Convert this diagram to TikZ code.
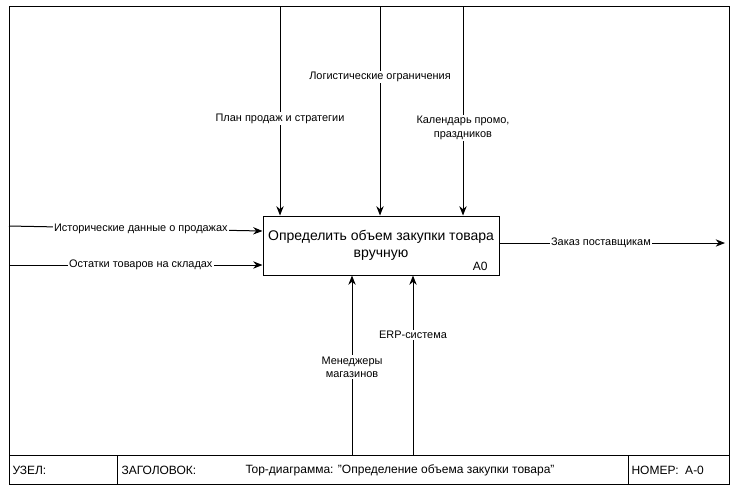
\documentclass[tikz,border=0pt]{standalone}
\usepackage{fontspec}
\setmainfont{Liberation Sans}
\usetikzlibrary{arrows.meta}
\begin{document}
\begin{tikzpicture}[x=0.75pt,y=-0.75pt,
  line width=0.75pt,
  flow/.style={draw, -{Stealth[length=7pt,width=5.5pt]}},
  lbl/.style={fill=white, inner sep=1pt, font=\fontsize{8.2}{10}\selectfont, align=center},
  foot/.style={font=\fontsize{9}{11}\selectfont, inner sep=0pt},
  actbox/.style={draw, minimum width=177pt, minimum height=44.25pt, inner sep=0pt}]
\useasboundingbox (0,0) rectangle (734,494);

% diagram frame and title row
\draw (9,6) rectangle (729,484);
\draw (9,455) -- (729,455);
\draw (117,455) -- (117,484);
\draw (628,455) -- (628,484);
\node[foot, anchor=west] (node) at (12,470) {УЗЕЛ:};
\node[foot, anchor=west] (title) at (121,470) {ЗАГОЛОВОК:};
\node[foot] (titletext) at (400,470) {Top-диаграмма: "Определение объема закупки товара"};
\node[foot, anchor=west] (number) at (631,470) {НОМЕР:\ \ A-0};

% activity box
\node[actbox] (box) at (381,245.5) {};
\node[font=\fontsize{10.5}{13}\selectfont, align=center] (boxtext) at (381,245)
  {Определить объем закупки товара\\вручную};
\node[font=\fontsize{9}{11}\selectfont, anchor=south east, inner sep=0pt] (boxid) at (488,271) {A0};

% controls from the top
\coordinate (c1) at (280,6);
\coordinate (c2) at (380,6);
\coordinate (c3) at (463,6);
\draw[flow] (c1) -- node[lbl, pos=0.538] {План продаж и стратегии} (c1 |- box.north);
\draw[flow] (c2) -- node[lbl, pos=0.338] {Логистические ограничения} (c2 |- box.north);
\draw[flow] (c3) -- node[lbl, pos=0.581] {Календарь промо,\\праздников} (c3 |- box.north);

% inputs from the left
\coordinate (i1) at (9,226);
\coordinate (i2) at (9,265);
\draw[flow] (i1) -- node[lbl, pos=0.52] {Исторические данные о продажах} (box.west |- 0,231);
\draw[flow] (i2) -- node[lbl, pos=0.52] {Остатки товаров на складах} (box.west |- i2);

% output to the right
\coordinate (o1) at (725,243);
\draw[flow] (box.east |- o1) -- node[lbl, pos=0.45] {Заказ поставщикам} (o1);

% mechanisms from below
\coordinate (m1) at (352,455);
\coordinate (m2) at (413,455);
\draw[flow] (m1) -- node[lbl, pos=0.489] {Менеджеры\\магазинов} (m1 |- box.south);
\draw[flow] (m2) -- node[lbl, pos=0.667] {ERP-система} (m2 |- box.south);
\end{tikzpicture}
\end{document}
